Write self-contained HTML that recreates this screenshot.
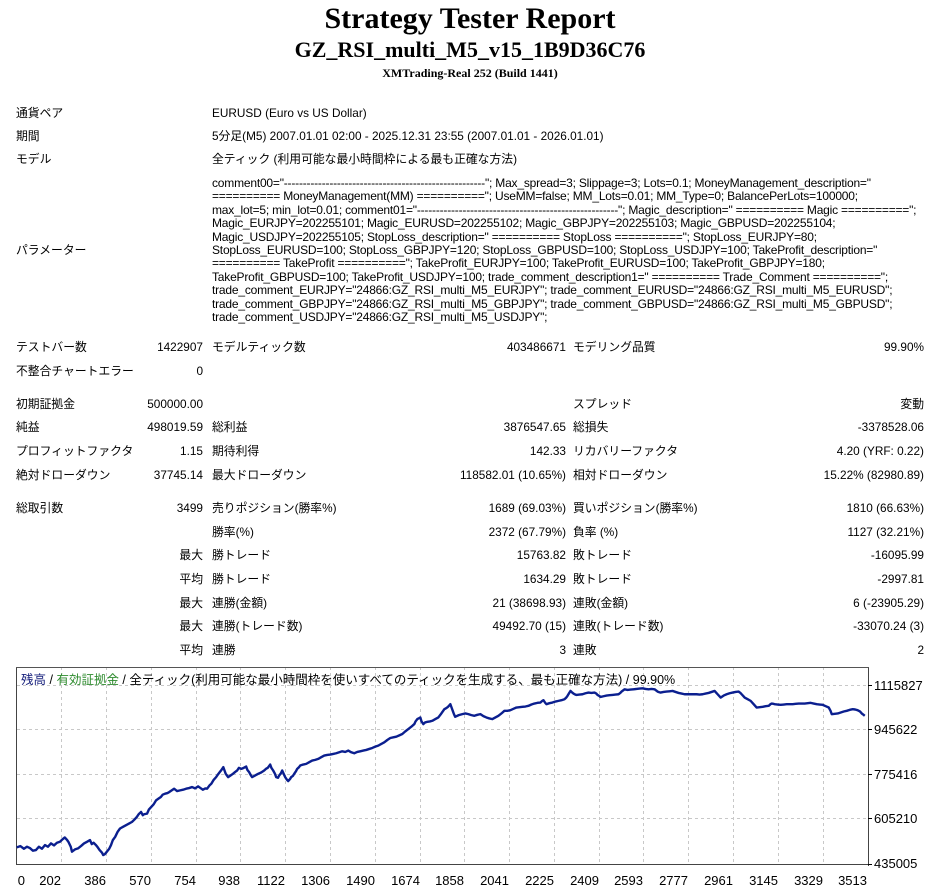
<!DOCTYPE html>
<html><head><meta charset="utf-8">
<style>
html,body{margin:0;padding:0;background:#fff;}
body{width:940px;height:894px;position:relative;overflow:hidden;font-family:"Liberation Sans","Noto Sans CJK JP",sans-serif;font-size:11.8px;color:#000;}
.t{position:absolute;white-space:nowrap;line-height:14px;}
.r{text-align:right;}
.h{position:absolute;left:0;width:940px;text-align:center;font-family:"Liberation Serif","Noto Serif CJK SC",serif;font-weight:bold;}
.p{position:absolute;left:212px;top:177px;font-size:12px;white-space:nowrap;letter-spacing:-0.2px;}
.p div{height:13.4px;line-height:13.4px;overflow:visible;}
</style></head><body>
<div class="h" style="top:2px;font-size:30px;line-height:34px;">Strategy Tester Report</div>
<div class="h" style="top:36px;font-size:22px;line-height:28px;">GZ_RSI_multi_M5_v15_1B9D36C76</div>
<div class="h" style="top:66px;font-size:12px;line-height:15px;">XMTrading-Real 252 (Build 1441)</div>

<div class="t" style="left:16px;top:106px">通貨ペア</div><div class="t" style="left:212px;top:106px">EURUSD (Euro vs US Dollar)</div>
<div class="t" style="left:16px;top:129px">期間</div><div class="t" style="left:212px;top:129px">5分足(M5) 2007.01.01 02:00 - 2025.12.31 23:55 (2007.01.01 - 2026.01.01)</div>
<div class="t" style="left:16px;top:152px">モデル</div><div class="t" style="left:212px;top:152px">全ティック (利用可能な最小時間枠による最も正確な方法)</div>
<div class="t" style="left:16px;top:243px">パラメーター</div>
<div class="p">
<div>comment00="-----------------------------------------------------"; Max_spread=3; Slippage=3; Lots=0.1; MoneyManagement_description="</div>
<div>========== MoneyManagement(MM) =========="; UseMM=false; MM_Lots=0.01; MM_Type=0; BalancePerLots=100000;</div>
<div>max_lot=5; min_lot=0.01; comment01="-----------------------------------------------------"; Magic_description=" ========== Magic ==========";</div>
<div>Magic_EURJPY=202255101; Magic_EURUSD=202255102; Magic_GBPJPY=202255103; Magic_GBPUSD=202255104;</div>
<div>Magic_USDJPY=202255105; StopLoss_description=" ========== StopLoss =========="; StopLoss_EURJPY=80;</div>
<div>StopLoss_EURUSD=100; StopLoss_GBPJPY=120; StopLoss_GBPUSD=100; StopLoss_USDJPY=100; TakeProfit_description="</div>
<div>========== TakeProfit =========="; TakeProfit_EURJPY=100; TakeProfit_EURUSD=100; TakeProfit_GBPJPY=180;</div>
<div>TakeProfit_GBPUSD=100; TakeProfit_USDJPY=100; trade_comment_description1=" ========== Trade_Comment ==========";</div>
<div>trade_comment_EURJPY="24866:GZ_RSI_multi_M5_EURJPY"; trade_comment_EURUSD="24866:GZ_RSI_multi_M5_EURUSD";</div>
<div>trade_comment_GBPJPY="24866:GZ_RSI_multi_M5_GBPJPY"; trade_comment_GBPUSD="24866:GZ_RSI_multi_M5_GBPUSD";</div>
<div>trade_comment_USDJPY="24866:GZ_RSI_multi_M5_USDJPY";</div>
</div>

<div class="t" style="left:16px;top:340px">テストバー数</div><div class="t r" style="right:737px;top:340px">1422907</div>
<div class="t" style="left:212px;top:340px">モデルティック数</div><div class="t r" style="right:374px;top:340px">403486671</div>
<div class="t" style="left:573px;top:340px">モデリング品質</div><div class="t r" style="right:16px;top:340px">99.90%</div>

<div class="t" style="left:16px;top:364px">不整合チャートエラー</div><div class="t r" style="right:737px;top:364px">0</div>

<div class="t" style="left:16px;top:397px">初期証拠金</div><div class="t r" style="right:737px;top:397px">500000.00</div>
<div class="t" style="left:573px;top:397px">スプレッド</div><div class="t r" style="right:16px;top:397px">変動</div>

<div class="t" style="left:16px;top:420px">純益</div><div class="t r" style="right:737px;top:420px">498019.59</div>
<div class="t" style="left:212px;top:420px">総利益</div><div class="t r" style="right:374px;top:420px">3876547.65</div>
<div class="t" style="left:573px;top:420px">総損失</div><div class="t r" style="right:16px;top:420px">-3378528.06</div>

<div class="t" style="left:16px;top:444px">プロフィットファクタ</div><div class="t r" style="right:737px;top:444px">1.15</div>
<div class="t" style="left:212px;top:444px">期待利得</div><div class="t r" style="right:374px;top:444px">142.33</div>
<div class="t" style="left:573px;top:444px">リカバリーファクタ</div><div class="t r" style="right:16px;top:444px">4.20 (YRF: 0.22)</div>

<div class="t" style="left:16px;top:468px">絶対ドローダウン</div><div class="t r" style="right:737px;top:468px">37745.14</div>
<div class="t" style="left:212px;top:468px">最大ドローダウン</div><div class="t r" style="right:374px;top:468px">118582.01 (10.65%)</div>
<div class="t" style="left:573px;top:468px">相対ドローダウン</div><div class="t r" style="right:16px;top:468px">15.22% (82980.89)</div>

<div class="t" style="left:16px;top:501px">総取引数</div><div class="t r" style="right:737px;top:501px">3499</div>
<div class="t" style="left:212px;top:501px">売りポジション(勝率%)</div><div class="t r" style="right:374px;top:501px">1689 (69.03%)</div>
<div class="t" style="left:573px;top:501px">買いポジション(勝率%)</div><div class="t r" style="right:16px;top:501px">1810 (66.63%)</div>

<div class="t" style="left:212px;top:525px">勝率(%)</div><div class="t r" style="right:374px;top:525px">2372 (67.79%)</div>
<div class="t" style="left:573px;top:525px">負率 (%)</div><div class="t r" style="right:16px;top:525px">1127 (32.21%)</div>

<div class="t r" style="right:737px;top:548px">最大</div>
<div class="t" style="left:212px;top:548px">勝トレード</div><div class="t r" style="right:374px;top:548px">15763.82</div>
<div class="t" style="left:573px;top:548px">敗トレード</div><div class="t r" style="right:16px;top:548px">-16095.99</div>

<div class="t r" style="right:737px;top:572px">平均</div>
<div class="t" style="left:212px;top:572px">勝トレード</div><div class="t r" style="right:374px;top:572px">1634.29</div>
<div class="t" style="left:573px;top:572px">敗トレード</div><div class="t r" style="right:16px;top:572px">-2997.81</div>

<div class="t r" style="right:737px;top:596px">最大</div>
<div class="t" style="left:212px;top:596px">連勝(金額)</div><div class="t r" style="right:374px;top:596px">21 (38698.93)</div>
<div class="t" style="left:573px;top:596px">連敗(金額)</div><div class="t r" style="right:16px;top:596px">6 (-23905.29)</div>

<div class="t r" style="right:737px;top:619px">最大</div>
<div class="t" style="left:212px;top:619px">連勝(トレード数)</div><div class="t r" style="right:374px;top:619px">49492.70 (15)</div>
<div class="t" style="left:573px;top:619px">連敗(トレード数)</div><div class="t r" style="right:16px;top:619px">-33070.24 (3)</div>

<div class="t r" style="right:737px;top:643px">平均</div>
<div class="t" style="left:212px;top:643px">連勝</div><div class="t r" style="right:374px;top:643px">3</div>
<div class="t" style="left:573px;top:643px">連敗</div><div class="t r" style="right:16px;top:643px">2</div>

<svg style="position:absolute;left:0;top:0" width="940" height="894">
<g stroke="#c8c8c8" stroke-width="1" stroke-dasharray="3,3">
<line x1="17" y1="685.5" x2="869" y2="685.5"/><line x1="17" y1="729.5" x2="869" y2="729.5"/><line x1="17" y1="774.5" x2="869" y2="774.5"/><line x1="17" y1="818.5" x2="869" y2="818.5"/>
<line x1="61.5" y1="667" x2="61.5" y2="864"/><line x1="106.5" y1="667" x2="106.5" y2="864"/><line x1="151.5" y1="667" x2="151.5" y2="864"/><line x1="196.5" y1="667" x2="196.5" y2="864"/><line x1="240.5" y1="667" x2="240.5" y2="864"/><line x1="285.5" y1="667" x2="285.5" y2="864"/><line x1="330.5" y1="667" x2="330.5" y2="864"/><line x1="375.5" y1="667" x2="375.5" y2="864"/><line x1="420.5" y1="667" x2="420.5" y2="864"/><line x1="464.5" y1="667" x2="464.5" y2="864"/><line x1="509.5" y1="667" x2="509.5" y2="864"/><line x1="554.5" y1="667" x2="554.5" y2="864"/><line x1="599.5" y1="667" x2="599.5" y2="864"/><line x1="643.5" y1="667" x2="643.5" y2="864"/><line x1="688.5" y1="667" x2="688.5" y2="864"/><line x1="733.5" y1="667" x2="733.5" y2="864"/><line x1="778.5" y1="667" x2="778.5" y2="864"/><line x1="823.5" y1="667" x2="823.5" y2="864"/>
</g>
<g stroke="#000" stroke-width="1" fill="none">
<line x1="16.5" y1="667" x2="16.5" y2="864.5" stroke="#444"/>
<line x1="16" y1="864.5" x2="869" y2="864.5" stroke="#444"/>
<line x1="868.5" y1="667" x2="868.5" y2="866" stroke="#444"/>
<line x1="16" y1="667.5" x2="869" y2="667.5" stroke="#555"/>
<line x1="868" y1="685.5" x2="872" y2="685.5"/><line x1="868" y1="729.5" x2="872" y2="729.5"/><line x1="868" y1="774.5" x2="872" y2="774.5"/><line x1="868" y1="818.5" x2="872" y2="818.5"/><line x1="868" y1="864.5" x2="872" y2="864.5"/>
</g>
<g transform="translate(-0.1,661.1) scale(0.6006,0.3315)">
<polyline vector-effect="non-scaling-stroke" fill="none" stroke="#0b1f8f" stroke-width="2.4" stroke-linejoin="round" points="28,562 34,558 40,566 45,560 50,564 55,572 60,570 65,560 70,566 75,555 80,560 85,550 90,556 95,548 100,545 104,538 108,532 112,540 114,545 118,560 120,575 125,568 130,565 135,558 140,550 145,545 150,540 153,552 156,548 160,555 163,562 166,570 170,578 172,585 175,582 178,575 182,566 185,555 188,540 192,530 196,515 200,505 205,500 210,495 215,490 220,485 224,478 228,470 231,462 235,455 238,465 240,462 245,460 248,448 252,440 256,432 260,420 264,415 268,410 271,403 275,400 279,398 282,395 286,390 290,385 295,392 300,390 305,388 310,385 315,383 320,380 325,384 330,378 334,383 338,388 342,384 345,385 349,375 352,370 356,358 360,350 363,342 366,335 369,328 372,320 374,330 376,340 380,350 384,345 388,340 392,334 395,330 398,322 402,325 406,322 410,318 412,328 415,335 418,345 420,350 425,345 430,340 435,336 440,330 443,325 446,322 450,312 452,322 455,330 458,340 460,350 463,352 465,345 468,338 470,330 473,342 475,350 478,358 480,362 483,356 485,350 488,346 490,340 493,332 495,325 498,320 500,315 505,312 510,310 515,305 520,300 525,298 530,295 535,290 540,285 545,283 550,282 555,280 560,278 565,275 570,272 575,274 580,270 585,275 590,278 595,274 600,272 605,270 610,268 615,265 620,262 625,258 630,255 635,250 640,245 645,238 650,232 655,230 660,228 665,224 670,220 675,212 680,205 685,198 690,190 692,182 695,175 698,172 700,170 702,182 705,190 708,185 712,183 716,182 720,180 725,175 730,170 735,158 740,145 743,142 746,138 748,134 750,130 752,140 754,150 756,160 758,168 764,163 770,160 775,158 780,160 785,163 790,165 795,162 800,160 805,166 810,170 815,173 820,175 825,170 830,165 835,158 840,150 845,150 850,148 855,144 860,140 865,139 870,138 875,137 880,135 885,131 890,128 895,126 900,125 903,120 905,118 908,126 910,130 915,127 920,125 925,122 930,120 935,118 940,115 943,110 945,105 948,96 950,90 953,95 955,98 958,101 960,102 965,101 970,100 975,97 980,95 985,96 990,95 993,98 995,102 998,105 1000,108 1005,106 1010,104 1015,103 1020,102 1025,101 1030,100 1033,96 1035,92 1038,88 1040,85 1045,87 1050,86 1055,85 1060,84 1065,83 1070,82 1075,84 1080,85 1085,84 1090,85 1093,89 1095,92 1098,94 1100,95 1105,93 1110,92 1115,91 1120,90 1125,93 1130,96 1135,98 1140,100 1145,100 1150,100 1155,100 1160,100 1165,101 1170,100 1175,98 1180,96 1185,93 1190,90 1193,96 1195,100 1198,106 1200,110 1205,104 1210,100 1215,97 1220,95 1225,93 1230,92 1233,96 1235,100 1238,106 1240,110 1245,115 1250,120 1255,130 1260,140 1265,139 1270,138 1275,136 1280,135 1283,130 1285,128 1288,129 1290,130 1295,131 1300,132 1305,131 1310,130 1315,130 1320,130 1325,129 1330,128 1335,128 1340,128 1345,127 1350,126 1355,128 1360,130 1365,131 1370,132 1375,136 1380,140 1383,150 1385,160 1390,159 1395,158 1400,155 1405,152 1410,150 1415,147 1420,145 1424,146 1428,148 1432,152 1435,158 1438,162 1440,165"/>
</g>
<g font-family="Liberation Sans, sans-serif" font-size="13" fill="#000" text-anchor="start">
<text x="874" y="690">1115827</text><text x="874" y="734">945622</text><text x="874" y="779">775416</text><text x="874" y="823">605210</text><text x="874" y="868">435005</text>
</g>
<g font-family="Liberation Sans, sans-serif" font-size="13" fill="#000" text-anchor="end">
<text x="25" y="885">0</text><text x="61" y="885">202</text><text x="106" y="885">386</text><text x="151" y="885">570</text><text x="196" y="885">754</text><text x="240" y="885">938</text><text x="285" y="885">1122</text><text x="330" y="885">1306</text><text x="375" y="885">1490</text><text x="420" y="885">1674</text><text x="464" y="885">1858</text><text x="509" y="885">2041</text><text x="554" y="885">2225</text><text x="599" y="885">2409</text><text x="643" y="885">2593</text><text x="688" y="885">2777</text><text x="733" y="885">2961</text><text x="778" y="885">3145</text><text x="823" y="885">3329</text><text x="867" y="885">3513</text>
</g>
<text x="21" y="684" font-family="Liberation Sans, Noto Sans CJK JP, sans-serif" font-size="12.5"><tspan fill="#1a237e">残高</tspan><tspan fill="#000"> / </tspan><tspan fill="#2e8b2e">有効証拠金</tspan><tspan fill="#000"> / 全ティック(利用可能な最小時間枠を使いすべてのティックを生成する、最も正確な方法) / 99.90%</tspan></text>
</svg>
</body></html>
